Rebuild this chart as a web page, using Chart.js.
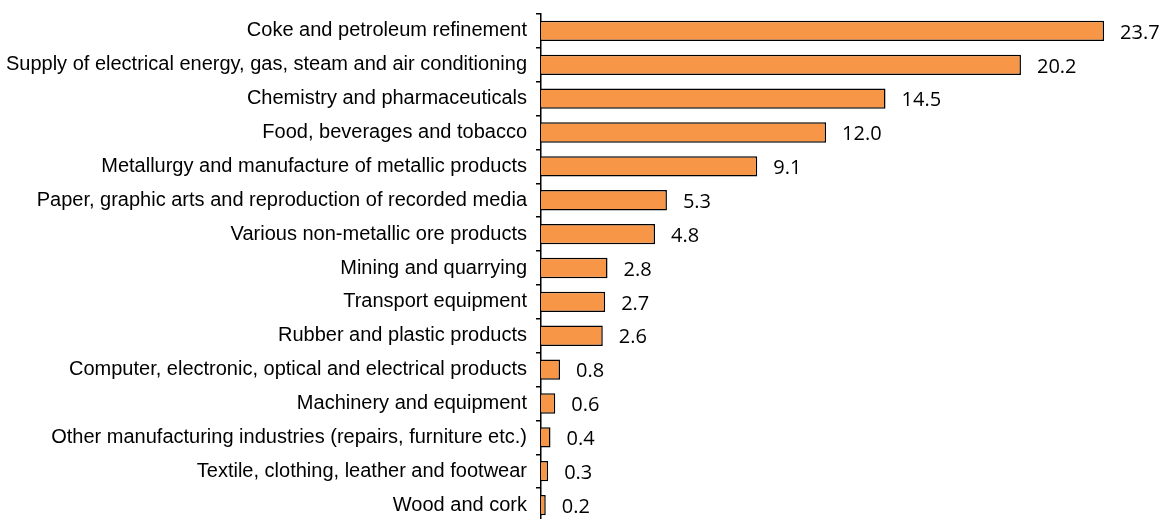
<!DOCTYPE html>
<html>
<head>
<meta charset="utf-8">
<script src="https://cdn.jsdelivr.net/npm/chart.js@4"></script>
<style>
html,body{margin:0;padding:0;background:#fff;overflow:hidden;}
canvas{display:block;}
</style>
</head>
<body>
<canvas id="c" width="1170" height="524"></canvas>
<script>
const categories = [
  "Coke and petroleum refinement",
  "Supply of electrical energy, gas, steam and air conditioning",
  "Chemistry and pharmaceuticals",
  "Food, beverages and tobacco",
  "Metallurgy and manufacture of metallic products",
  "Paper, graphic arts and reproduction of recorded media",
  "Various non-metallic ore products",
  "Mining and quarrying",
  "Transport equipment",
  "Rubber and plastic products",
  "Computer, electronic, optical and electrical products",
  "Machinery and equipment",
  "Other manufacturing industries (repairs, furniture etc.)",
  "Textile, clothing, leather and footwear",
  "Wood and cork"
];
const values = [23.7, 20.2, 14.5, 12.0, 9.1, 5.3, 4.8, 2.8, 2.7, 2.6, 0.8, 0.6, 0.4, 0.3, 0.2];
const valueLabels = ["23.7","20.2","14.5","12.0","9.1","5.3","4.8","2.8","2.7","2.6","0.8","0.6","0.4","0.3","0.2"];

const labelPlugin = {
  id: 'valLabels',
  afterDatasetsDraw(chart) {
    const ctx = chart.ctx;
    const meta = chart.getDatasetMeta(0);
    ctx.save();
    ctx.font = '20px "Open Sans"';
    ctx.fillStyle = '#000';
    ctx.textAlign = 'left';
    ctx.textBaseline = 'middle';
    meta.data.forEach((bar, i) => {
      ctx.fillText(valueLabels[i], bar.x + 16, bar.y + 2);
    });
    ctx.restore();
  }
};

new Chart(document.getElementById('c'), {
  type: 'bar',
  data: {
    labels: categories,
    datasets: [{
      data: values,
      backgroundColor: '#F79646',
      borderColor: '#000',
      borderWidth: 1.5,
      categoryPercentage: 0.6,
      barPercentage: 1.0
    }]
  },
  options: {
    indexAxis: 'y',
    responsive: false,
    animation: false,
    layout: { padding: { left: 0, right: 35, top: 14, bottom: 2 } },
    plugins: { legend: { display: false }, tooltip: { enabled: false } },
    scales: {
      x: {
        display: false,
        min: 0,
        max: 25
      },
      y: {
        afterFit(scale) { scale.width = 541; scale.paddingTop = 0; scale.paddingBottom = 0; },
        grid: { display: true, drawOnChartArea: false, drawTicks: true, tickLength: 5, color: '#000', lineWidth: 1.5, offset: true },
        border: { display: true, color: '#000', width: 1.5 },
        ticks: {
          color: '#000',
          padding: 9,
          font: { family: '"Liberation Sans", Arial, sans-serif', size: 20 }
        }
      }
    }
  },
  plugins: [labelPlugin]
});
</script>
</body>
</html>
